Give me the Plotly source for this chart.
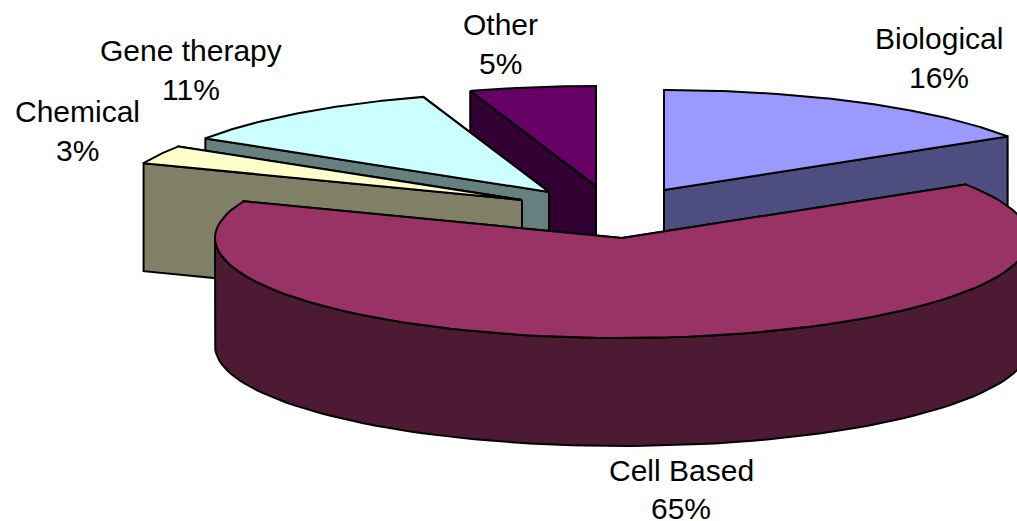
import numpy as np
import plotly.graph_objects as go

# Share of each modality, clockwise from twelve o'clock
categories = ["Biological", "Cell Based", "Chemical", "Gene therapy", "Other"]
shares = [16, 65, 3, 11, 5]

top_colours = ["#9999FF", "#993366", "#FFFFCC", "#CCFFFF", "#660066"]
wall_colours = ["#4D4D80", "#4D1A33", "#808066", "#668080", "#330033"]

# Where each exploded slice's tip sits on the page, in pixels
tips = [(664, 190), (622, 238), (522, 200), (549, 192), (596, 186)]
label_pos = [(939, 58), (681, 489.5), (77, 131), (191, 70), (500, 44)]

RX, RY, DEPTH = 407, 100, 108
WIDTH, HEIGHT = 1017, 521
LINE_PITCH = 38.5
PAINT_ORDER = ["Other", "Gene therapy", "Chemical", "Biological", "Cell Based"]


def rim(tip, a0, a1, n=90):
    """Points along the slice's outer rim between two angles in degrees."""
    t = np.radians(np.linspace(a0, a1, n))
    return tip[0] + RX * np.cos(t), tip[1] - RY * np.sin(t)


def add_poly(fig, xs, ys, colour, name):
    fig.add_trace(go.Scatter(
        x=np.append(xs, xs[0]), y=np.append(ys, ys[0]),
        mode="lines", fill="toself", fillcolor=colour,
        line=dict(color="black", width=2), name=name,
        hoverinfo="skip", showlegend=False,
    ))


# Slice angles follow directly from the shares
edges = 90 - np.cumsum([0] + shares) / sum(shares) * 360
spans = {c: (edges[i], edges[i + 1]) for i, c in enumerate(categories)}

fig = go.Figure()
for cat in PAINT_ORDER:
    i = categories.index(cat)
    tip = tips[i]
    start, stop = spans[cat]
    wall, top = wall_colours[i], top_colours[i]

    # Radial faces, rear one first
    for a in sorted([start, stop], key=lambda v: -np.sin(np.radians(v))):
        ex, ey = rim(tip, a, a, 1)
        add_poly(fig,
                 np.array([tip[0], ex[0], ex[0], tip[0]]),
                 np.array([tip[1], ey[0], ey[0] + DEPTH, tip[1] + DEPTH]),
                 wall, cat)

    # Outer wall for the part of the rim that faces the viewer
    lo, hi = max(stop, -180), min(start, 0)
    if hi > lo:
        ax, ay = rim(tip, hi, lo)
        add_poly(fig, np.r_[ax, ax[::-1]], np.r_[ay, ay[::-1] + DEPTH], wall, cat)

    # Top surface
    rx, ry = rim(tip, start, stop)
    add_poly(fig, np.r_[tip[0], rx], np.r_[tip[1], ry], top, cat)

# Each label is two stacked lines: the name, then its share
for cat, share, (lx, ly) in zip(categories, shares, label_pos):
    for text, y in ((cat, ly - LINE_PITCH / 2), (f"{share}%", ly + LINE_PITCH / 2)):
        fig.add_annotation(
            x=lx, y=y, xref="x", yref="y", showarrow=False, text=text,
            font=dict(family="Liberation Sans", size=30, color="black"),
        )

fig.update_layout(
    width=WIDTH, height=HEIGHT,
    margin=dict(l=0, r=0, t=0, b=0),
    paper_bgcolor="white", plot_bgcolor="white",
    xaxis=dict(range=[0, WIDTH], visible=False, fixedrange=True),
    yaxis=dict(range=[HEIGHT, 0], visible=False, fixedrange=True),
)
fig.write_html("out.html")
